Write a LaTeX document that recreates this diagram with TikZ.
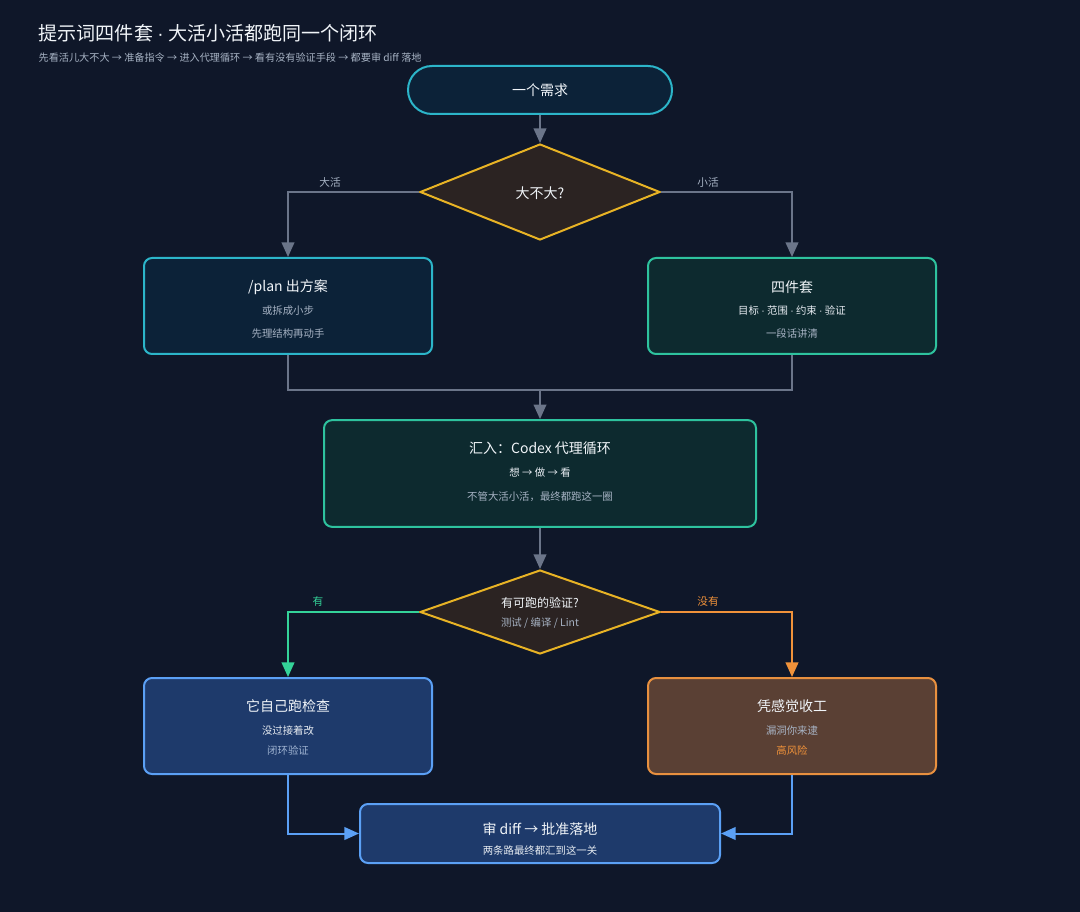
\documentclass[tikz,border=0pt]{standalone}
\usepackage{fontspec}
\setmainfont{Noto Sans CJK SC}
\newfontfamily\latinf{Liberation Sans}
\newcommand{\mdot}{{\latinf ·}}
\usetikzlibrary{shapes.geometric,arrows.meta}
\definecolor{bg}{HTML}{0F1729}
\definecolor{cyanb}{HTML}{2CB5C9}
\definecolor{cyanf}{HTML}{0C2238}
\definecolor{tealb}{HTML}{2EC29E}
\definecolor{tealf}{HTML}{0D2A2F}
\definecolor{amber}{HTML}{E8B325}
\definecolor{amberf}{HTML}{2B2322}
\definecolor{lgray}{HTML}{6B7589}
\definecolor{grn}{HTML}{34D399}
\definecolor{org}{HTML}{F0923A}
\definecolor{blueb}{HTML}{5BA0F5}
\definecolor{bluef}{HTML}{1E3A6B}
\definecolor{brownf}{HTML}{5A4034}
\definecolor{brownb}{HTML}{E8903F}
\definecolor{ttl}{HTML}{F1F5F9}
\definecolor{sub}{HTML}{A7B3C4}
\definecolor{subblue}{HTML}{9FB3D1}
\tikzset{
  box/.style={draw, line width=1.5pt, rounded corners=6pt, inner sep=0pt},
  dia/.style={diamond, draw=amber, fill=amberf, line width=1.5pt, inner sep=0pt, aspect=2.5},
  ttltext/.style={text=ttl, font=\fontsize{10.5pt}{12pt}\selectfont},
  subtext/.style={text=sub, font=\fontsize{7.8pt}{9pt}\selectfont},
  lbl/.style={font=\fontsize{8pt}{9pt}\selectfont},
  conn/.style={line width=1.5pt, -{Triangle[length=11pt,width=9.5pt]}},
  plain/.style={line width=1.5pt},
}
\begin{document}
\begin{tikzpicture}[x=0.75pt,y=-0.75pt]
\fill[bg] (0,0) rectangle (1080,912);
\useasboundingbox (0,0) rectangle (1080,912);
% title
\node[anchor=west, text=ttl, font=\fontsize{14.3pt}{16pt}\selectfont] (title) at (34,33) {提示词四件套 \mdot{} 大活小活都跑同一个闭环};
\node[anchor=west, text=sub, font=\fontsize{7.6pt}{8pt}\selectfont] (subtitle) at (34,58) {先看活儿大不大 → 准备指令 → 进入代理循环 → 看有没有验证手段 → 都要审 diff 落地};
% start
\node[draw=cyanb, fill=cyanf, line width=1.5pt, rounded corners=18pt, minimum width=198pt, minimum height=36pt, inner sep=0pt, ttltext] (start) at (540,90) {一个需求};
% diamond 1
\node[dia, minimum width=180pt, minimum height=72pt, ttltext] (d1) at (540,192) {};
\node[ttltext] (d1t) at (540,193) {大不大?};
% plan box
\node[box, draw=cyanb, fill=cyanf, minimum width=216pt, minimum height=72pt] (plan) at (288,306) {};
\node[ttltext] (planT) at (288,287) {/plan 出方案};
\node[subtext] (planA) at (288,311) {或拆成小步};
\node[subtext] (planB) at (288,334) {先理结构再动手};
% four-piece box
\node[box, draw=tealb, fill=tealf, minimum width=216pt, minimum height=72pt] (quad) at (792,306) {};
\node[ttltext] (quadT) at (792,287) {四件套};
\node[subtext, text=ttl!85!sub] (quadA) at (792,311) {目标 \mdot{} 范围 \mdot{} 约束 \mdot{} 验证};
\node[subtext] (quadB) at (792,334) {一段话讲清};
% loop box
\node[box, draw=tealb, fill=tealf, minimum width=324pt, minimum height=80pt] (loop) at (540,473.5) {};
\node[ttltext] (loopT) at (540,448) {汇入：Codex 代理循环};
\node[subtext, text=ttl!85!sub] (loopA) at (540,473) {想 → 做 → 看};
\node[subtext] (loopB) at (540,497) {不管大活小活，最终都跑这一圈};
% diamond 2
\node[dia, minimum width=180pt, minimum height=63pt] (d2) at (540,612) {};
\node[ttltext, font=\fontsize{9pt}{10pt}\selectfont] (d2t) at (540,603) {有可跑的验证?};
\node[subtext] (d2s) at (540,623) {测试 / 编译 / Lint};
% self-check box
\node[box, draw=blueb, fill=bluef, minimum width=216pt, minimum height=72pt] (self) at (288,726) {};
\node[ttltext] (selfT) at (288,706) {它自己跑检查};
\node[subtext, text=ttl!85!sub] (selfA) at (288,731) {没过接着改};
\node[subtext, text=subblue] (selfB) at (288,751) {闭环验证};
% feel box
\node[box, draw=brownb, fill=brownf, minimum width=216pt, minimum height=72pt] (feel) at (792,726) {};
\node[ttltext] (feelT) at (792,706) {凭感觉收工};
\node[subtext] (feelA) at (792,731) {漏洞你来逮};
\node[subtext, text=org] (feelB) at (792,751) {高风险};
% final box
\node[box, draw=blueb, fill=bluef, minimum width=270pt, minimum height=44.25pt] (fin) at (540,833.5) {};
\node[ttltext] (finT) at (540,829) {审 diff → 批准落地};
\node[subtext, text=ttl!85!sub] (finA) at (540,851) {两条路最终都汇到这一关};
% connectors
\draw[conn, lgray] (start.south) -- (d1.north);
\draw[conn, lgray] (d1.west) -| (plan.north);
\draw[conn, lgray] (d1.east) -| (quad.north);
\node[lbl, text=sub] (lbig) at (330,182) {大活};
\node[lbl, text=sub] (lsmall) at (708,182) {小活};
\coordinate (merge) at (540,390);
\draw[plain, lgray] (plan.south) |- (merge);
\draw[plain, lgray] (quad.south) |- (merge);
\draw[conn, lgray] (merge) -- (loop.north);
\draw[conn, lgray] (loop.south) -- (d2.north);
\draw[conn, grn] (d2.west) -| (self.north);
\draw[conn, org] (d2.east) -| (feel.north);
\node[lbl, text=grn] (lyes) at (318,601) {有};
\node[lbl, text=org] (lno) at (708,601) {没有};
\draw[conn, blueb] (self.south) |- (fin.west);
\draw[conn, blueb] (feel.south) |- (fin.east);
\end{tikzpicture}
\end{document}
